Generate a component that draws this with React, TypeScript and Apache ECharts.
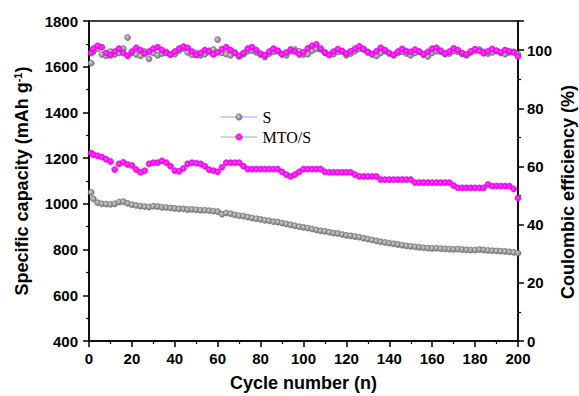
import React, { useEffect, useRef } from "react";
import * as echarts from "echarts";

const cycles = [1, 2, 4, 6, 8, 10, 12, 14, 16, 18, 20, 22, 24, 26, 28, 30, 32, 34, 36, 38, 40, 42, 44, 46, 48, 50, 52, 54, 56, 58, 60, 62, 64, 66, 68, 70, 72, 74, 76, 78, 80, 82, 84, 86, 88, 90, 92, 94, 96, 98, 100, 102, 104, 106, 108, 110, 112, 114, 116, 118, 120, 122, 124, 126, 128, 130, 132, 134, 136, 138, 140, 142, 144, 146, 148, 150, 152, 154, 156, 158, 160, 162, 164, 166, 168, 170, 172, 174, 176, 178, 180, 182, 184, 186, 188, 190, 192, 194, 196, 198, 200];

const capS = [1050, 1022, 1005, 1000, 999, 998, 1000, 1008, 1010, 1002, 996, 993, 990, 988, 986, 990, 988, 985, 984, 982, 980, 978, 978, 975, 976, 974, 972, 972, 970, 968, 966, 955, 960, 957, 952, 948, 946, 942, 938, 935, 932, 928, 926, 922, 920, 916, 912, 908, 904, 900, 897, 894, 890, 886, 882, 880, 876, 872, 870, 866, 862, 860, 857, 854, 850, 846, 842, 838, 834, 831, 828, 825, 822, 819, 816, 814, 812, 810, 808, 806, 805, 806, 804, 803, 802, 801, 802, 800, 799, 798, 798, 800, 798, 796, 795, 794, 793, 792, 790, 788, 784];

const capMTO = [1222, 1215, 1210, 1205, 1195, 1185, 1150, 1175, 1182, 1172, 1168, 1150, 1138, 1145, 1175, 1180, 1180, 1188, 1180, 1165, 1145, 1142, 1155, 1175, 1180, 1178, 1175, 1165, 1150, 1145, 1140, 1160, 1180, 1180, 1180, 1180, 1165, 1152, 1152, 1152, 1152, 1152, 1152, 1152, 1152, 1140, 1128, 1120, 1128, 1140, 1152, 1152, 1152, 1152, 1152, 1140, 1138, 1138, 1138, 1138, 1138, 1138, 1128, 1120, 1120, 1120, 1120, 1120, 1106, 1106, 1106, 1106, 1106, 1106, 1106, 1106, 1093, 1093, 1093, 1093, 1093, 1093, 1093, 1093, 1093, 1080, 1070, 1070, 1070, 1070, 1070, 1070, 1070, 1085, 1078, 1078, 1078, 1078, 1078, 1065, 1025];

const ceS = [95.5, 99.5, 100.5, 98.5, 98, 99.5, 98.5, 99, 100.5, 104.3, 99, 98.5, 98, 99.5, 97, 99, 98.2, 98.8, 99.4, 98.4, 98.6, 99.8, 100.6, 99.2, 98.4, 99, 98.2, 98.6, 99.8, 100.2, 103.6, 99, 98.6, 98.2, 99.2, 97.8, 98.6, 99.6, 99.8, 99.2, 98.4, 97.6, 98.8, 99.4, 99.6, 98.5, 98.2, 99.6, 100.2, 99.6, 98.4, 98.6, 99.8, 100.5, 100.2, 99, 98.4, 98.6, 99.4, 99.5, 98.2, 98.8, 99.6, 100.4, 100.2, 99.4, 98.6, 98, 99, 99.6, 98.8, 98.2, 99, 99.4, 98.8, 98.2, 99, 99.4, 98.4, 97.8, 99, 99.6, 99.4, 98.6, 98.8, 99.6, 99.4, 98.6, 98.2, 99.2, 99.8, 100.2, 99.4, 98.8, 99.2, 99.6, 99, 98.6, 99.2, 99.4, 98.6];

const ceMTO = [99, 100.5, 101.5, 101, 99, 98.2, 99.5, 100.5, 99, 98, 99.5, 100.8, 100, 98.8, 99.5, 100.5, 101, 100, 99, 98.5, 99.5, 100.5, 101.2, 100.8, 99.5, 98.3, 99, 100, 99.5, 98.5, 99.2, 100.3, 101, 100, 99, 98, 99, 100.5, 101, 100, 98.8, 98.2, 99.5, 100.5, 99.8, 98.6, 99.2, 100.2, 99.5, 98.5, 99.3, 100.6, 101.5, 102, 100.5, 99.2, 98.3, 99.5, 100.3, 99.7, 98.8, 99.6, 100.5, 101.3, 100.4, 99.2, 98.6, 99.6, 100.8, 100, 99, 98.4, 99.5, 100.4, 99.6, 99.4, 100.2, 99.5, 98.6, 99.4, 100.5, 100.8, 99.8, 98.8, 99.5, 100.6, 100, 99, 98.5, 99.6, 100.3, 99.7, 98.9, 99.6, 100.4, 99.8, 99.2, 100, 99.6, 99.2, 97.8];

const seriesNames = ["S", "MTO/S"];
const xTitle = "Cycle number (n)";
const yLeftTitle = "Specific capacity (mAh g{sup|-1})";
const yRightTitle = "Coulombic efficiency (%)";

const pair = (xs: number[], ys: number[]) => xs.map((x, i) => [x, ys[i]]);

const grayFill = {
  type: "radial", x: 0.4, y: 0.4, r: 0.6,
  colorStops: [{ offset: 0, color: "#d0d0d0" }, { offset: 1, color: "#767676" }],
};
const magFill = {
  type: "radial", x: 0.45, y: 0.45, r: 0.6,
  colorStops: [{ offset: 0, color: "#ff7cff" }, { offset: 0.35, color: "#ff1aff" }, { offset: 1, color: "#ff00ff" }],
};

const FONT = "'Liberation Sans', Arial, sans-serif";

export default function App() {
  const ref = useRef<HTMLDivElement>(null);
  useEffect(() => {
    if (!ref.current) return;
    const chart = echarts.init(ref.current, undefined, { renderer: "svg" });
    const mk = (name: string, data: number[][], yIdx: number, fill: any, border: string) => ({
      name,
      type: "line",
      yAxisIndex: yIdx,
      data,
      symbol: "circle",
      symbolSize: 6,
      showSymbol: true,
      showAllSymbol: true,
      lineStyle: { width: 0, opacity: 0 },
      itemStyle: { color: fill, borderColor: border, borderWidth: 0.6 },
      emphasis: { disabled: true },
    });
    const axisCommon = {
      axisLine: { show: true, lineStyle: { color: "#000", width: 1.5 } },
      axisTick: { show: true, inside: false, length: 6, lineStyle: { color: "#000", width: 1.5 } },
      minorTick: { show: true, splitNumber: 2, length: 3, lineStyle: { color: "#000", width: 1.2 } },
      splitLine: { show: false },
      axisLabel: { color: "#000", fontFamily: FONT, fontWeight: "bold", fontSize: 15, formatter: (v: number) => String(v) },
      nameTextStyle: { color: "#000", fontFamily: FONT, fontWeight: "bold", fontSize: 18 },
    };
    chart.setOption({
      animation: false,
      backgroundColor: "#fff",
      grid: {
        left: 89, right: 61, top: 21, bottom: 55, show: true, borderColor: "#000", borderWidth: 1.5,
        backgroundColor: "transparent", containLabel: false, outerBoundsMode: "none",
      },
      graphic: [
        {
          type: "text",
          x: 568,
          y: 192,
          rotation: Math.PI / 2,
          style: {
            text: yRightTitle,
            fill: "#000",
            font: "bold 18px 'Liberation Sans', Arial, sans-serif",
            textAlign: "center",
            textVerticalAlign: "middle",
          },
        },
      ],
      legend: {
        orient: "vertical",
        left: 215,
        top: 104,
        itemWidth: 37,
        itemHeight: 8,
        itemGap: 4,
        textStyle: { fontFamily: "'Liberation Serif', 'Times New Roman', serif", fontSize: 16, color: "#000" },
        data: [
          { name: seriesNames[0], itemStyle: { color: grayFill, borderColor: "#666", borderWidth: 0.6 }, lineStyle: { color: "#a0a0ff", width: 1, opacity: 1 } },
          { name: seriesNames[1], itemStyle: { color: magFill, borderColor: "#d000d0", borderWidth: 0.6 }, lineStyle: { color: "#a8a8a8", width: 1, opacity: 1 } },
        ],
      },
      xAxis: {
        type: "value", min: 0, max: 200, interval: 20,
        name: xTitle, nameLocation: "middle", nameGap: 33,
        ...axisCommon,
        axisLabel: { ...axisCommon.axisLabel, margin: 10 },
      },
      yAxis: [
        {
          type: "value", min: 400, max: 1800, interval: 200, position: "left",
          name: yLeftTitle, nameLocation: "middle", nameGap: 58, nameRotate: 90,
          ...axisCommon,
          axisLabel: { ...axisCommon.axisLabel, margin: 11 },
          nameTextStyle: { ...axisCommon.nameTextStyle, rich: { sup: { fontFamily: FONT, fontWeight: "bold", fontSize: 11, verticalAlign: "top", padding: [0, 0, 8, 0], color: "#000" } } },
        },
        {
          type: "value", min: 0, max: 110, interval: 20, position: "right",
          ...axisCommon,
          axisLabel: { ...axisCommon.axisLabel, margin: 9, showMaxLabel: false },
        },
      ],
      series: [
        mk(seriesNames[0], pair(cycles, capS), 0, grayFill, "#6a6a6a"),
        mk(seriesNames[0], pair(cycles, ceS), 1, grayFill, "#6a6a6a"),
        mk(seriesNames[1], pair(cycles, capMTO), 0, magFill, "#d000d0"),
        mk(seriesNames[1], pair(cycles, ceMTO), 1, magFill, "#d000d0"),
      ],
    });
    return () => chart.dispose();
  }, []);
  return (
    <div
      ref={ref}
      style={{ position: "fixed", left: 0, top: 0, width: 579, height: 396, background: "#fff" }}
    />
  );
}
